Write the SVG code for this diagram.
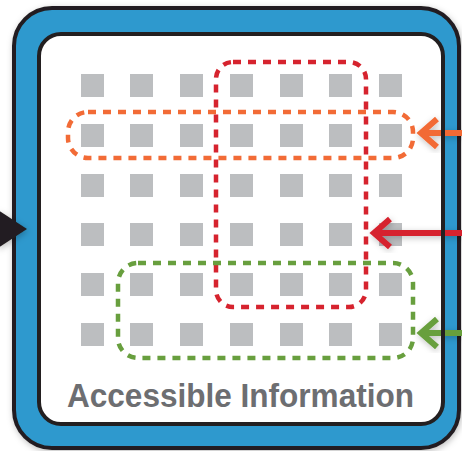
<svg xmlns="http://www.w3.org/2000/svg" width="462" height="451" viewBox="0 0 462 451">
  <defs>
    <filter id="shadow" x="-20%" y="-20%" width="140%" height="140%">
      <feDropShadow dx="1" dy="2" stdDeviation="3" flood-color="#000" flood-opacity="0.25"/>
    </filter>
    <style>
      .cell { fill: #BCBEC0; }
      .sel { fill: none; stroke-width: 4.5; stroke-dasharray: 8 7; }
      .arrow { fill: none; stroke-width: 6; stroke-linejoin: miter; stroke-miterlimit: 10; }
      .label { font-family: "Liberation Sans", Arial, sans-serif; font-weight: bold; font-size: 33px; fill: #6D6E71; }
    </style>
  </defs>

  <g id="frame">
    <rect x="14" y="8" width="445" height="440" rx="38" fill="#2F99CE" stroke="#231F20" stroke-width="4" filter="url(#shadow)"/>
    <rect x="39" y="34" width="404" height="390" rx="22" fill="#FFFFFF"/>
  </g>

  <g id="grid">
    <rect class="cell" x="81" y="74" width="23" height="23"/>
    <rect class="cell" x="130" y="74" width="23" height="23"/>
    <rect class="cell" x="180" y="74" width="23" height="23"/>
    <rect class="cell" x="230" y="74" width="23" height="23"/>
    <rect class="cell" x="280" y="74" width="23" height="23"/>
    <rect class="cell" x="329" y="74" width="23" height="23"/>
    <rect class="cell" x="379" y="74" width="23" height="23"/>

    <rect class="cell" x="81" y="124" width="23" height="23"/>
    <rect class="cell" x="130" y="124" width="23" height="23"/>
    <rect class="cell" x="180" y="124" width="23" height="23"/>
    <rect class="cell" x="230" y="124" width="23" height="23"/>
    <rect class="cell" x="280" y="124" width="23" height="23"/>
    <rect class="cell" x="329" y="124" width="23" height="23"/>
    <rect class="cell" x="379" y="124" width="23" height="23"/>

    <rect class="cell" x="81" y="174" width="23" height="23"/>
    <rect class="cell" x="130" y="174" width="23" height="23"/>
    <rect class="cell" x="180" y="174" width="23" height="23"/>
    <rect class="cell" x="230" y="174" width="23" height="23"/>
    <rect class="cell" x="280" y="174" width="23" height="23"/>
    <rect class="cell" x="329" y="174" width="23" height="23"/>
    <rect class="cell" x="379" y="174" width="23" height="23"/>

    <rect class="cell" x="81" y="223" width="23" height="23"/>
    <rect class="cell" x="130" y="223" width="23" height="23"/>
    <rect class="cell" x="180" y="223" width="23" height="23"/>
    <rect class="cell" x="230" y="223" width="23" height="23"/>
    <rect class="cell" x="280" y="223" width="23" height="23"/>
    <rect class="cell" x="329" y="223" width="23" height="23"/>
    <rect class="cell" x="379" y="223" width="23" height="23"/>

    <rect class="cell" x="81" y="273" width="23" height="23"/>
    <rect class="cell" x="130" y="273" width="23" height="23"/>
    <rect class="cell" x="180" y="273" width="23" height="23"/>
    <rect class="cell" x="230" y="273" width="23" height="23"/>
    <rect class="cell" x="280" y="273" width="23" height="23"/>
    <rect class="cell" x="329" y="273" width="23" height="23"/>
    <rect class="cell" x="379" y="273" width="23" height="23"/>

    <rect class="cell" x="81" y="323" width="23" height="23"/>
    <rect class="cell" x="130" y="323" width="23" height="23"/>
    <rect class="cell" x="180" y="323" width="23" height="23"/>
    <rect class="cell" x="230" y="323" width="23" height="23"/>
    <rect class="cell" x="280" y="323" width="23" height="23"/>
    <rect class="cell" x="329" y="323" width="23" height="23"/>
    <rect class="cell" x="379" y="323" width="23" height="23"/>
  </g>

  <g id="selection-row">
    <rect class="sel" x="68" y="112" width="345" height="46" rx="20" stroke="#F26B36"/>
  </g>
  <g id="selection-column">
    <rect class="sel" x="216" y="62" width="150" height="245" rx="17" stroke="#D6232E"/>
  </g>
  <g id="selection-block">
    <rect class="sel" x="118" y="263" width="295" height="95" rx="20" stroke="#689F3E"/>
  </g>

  <g id="label">
    <text class="label" x="240.5" y="407" text-anchor="middle" textLength="347" lengthAdjust="spacingAndGlyphs">Accessible Information</text>
  </g>

  <g id="connectors">
    <path class="arrow" stroke="#F26B36" filter="url(#shadow)" d="M462 133 H422 M437 119 L421 133 L437 147"/>
    <path class="arrow" stroke="#D6232E" filter="url(#shadow)" d="M462 233 H375 M390 219 L374 233 L390 247"/>
    <path class="arrow" stroke="#689F3E" filter="url(#shadow)" d="M462 333 H422 M437 319 L421 333 L437 347"/>
    <polygon fill="#231F20" filter="url(#shadow)" points="-2,210 27,229 -2,248"/>
  </g>

  <g id="frame-border">
    <rect x="39" y="34" width="404" height="390" rx="22" fill="none" stroke="#231F20" stroke-width="4"/>
  </g>
</svg>
